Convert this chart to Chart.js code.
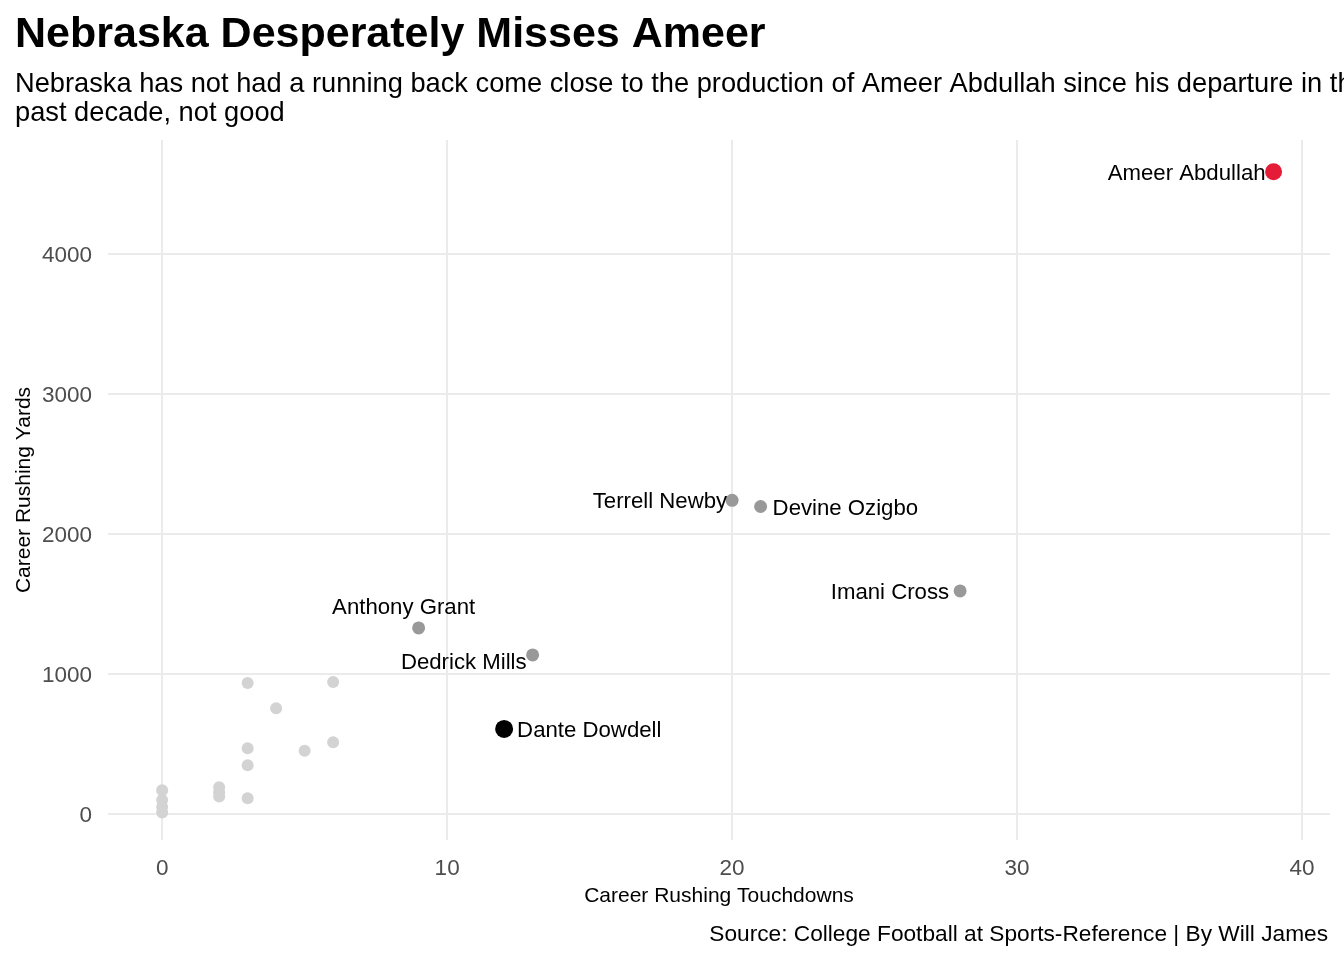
<!DOCTYPE html>
<html>
<head>
<meta charset="utf-8">
<script src="https://cdn.jsdelivr.net/npm/chart.js@4"></script>
<style>
  html, body { margin: 0; padding: 0; background: #ffffff; }
  #wrap { width: 1344px; height: 960px; }
</style>
</head>
<body>
<div id="wrap"><canvas id="chart" width="1344" height="960"></canvas></div>
<script>
// named running backs
const backs = ['Ameer Abdullah', 'Terrell Newby', 'Devine Ozigbo', 'Imani Cross', 'Anthony Grant', 'Dedrick Mills', 'Dante Dowdell'];
const backTouchdowns = [39, 20, 21, 28, 9, 13, 12];
const backYards = [4588, 2240, 2196, 1593, 1329, 1136, 607];

// everyone else (unlabelled)
const otherTouchdowns = [0, 0, 0, 0, 2, 2, 2, 3, 3, 3, 3, 4, 5, 6, 6];
const otherYards = [170, 100, 50, 10, 190, 155, 125, 936, 469, 348, 112, 755, 452, 943, 512];

const xTicks = [0, 10, 20, 30, 40];
const yTicks = [0, 1000, 2000, 3000, 4000];

// look of the named points and where their labels sit
const backColors = ['#e41c38', '#999999', '#999999', '#999999', '#999999', '#999999', '#000000'];
const backRadius = [8.5, 6.5, 6.5, 6.5, 6.5, 6.5, 9];
const labelSpots = [
    { align: 'right', dx: -8, dy: 2 },
    { align: 'right', dx: -5, dy: 2 },
    { align: 'left', dx: 12, dy: 2 },
    { align: 'right', dx: -11, dy: 2 },
    { align: 'center', dx: -15, dy: -20 },
    { align: 'right', dx: -6, dy: 8 },
    { align: 'left', dx: 13, dy: 2 }
];

const FONT = '"Liberation Sans", Arial, sans-serif';

const textPlugin = {
    id: 'textPlugin',
    afterDatasetsDraw(chart) {
        const ctx = chart.ctx;
        const meta = chart.getDatasetMeta(1);
        ctx.save();
        ctx.font = '22.2px ' + FONT;
        ctx.fillStyle = '#000000';
        ctx.textBaseline = 'middle';
        meta.data.forEach((pt, i) => {
            const s = labelSpots[i];
            ctx.textAlign = s.align;
            ctx.fillText(backs[i], pt.x + s.dx, pt.y + s.dy);
        });
        ctx.restore();
    },
    afterDraw(chart) {
        const ctx = chart.ctx;
        ctx.save();
        ctx.fillStyle = '#000000';
        ctx.textBaseline = 'alphabetic';
        ctx.textAlign = 'left';
        ctx.font = 'bold 43px ' + FONT;
        ctx.fillText('Nebraska Desperately Misses Ameer', 15, 47);
        ctx.font = '27.25px ' + FONT;
        ctx.fillText('Nebraska has not had a running back come close to the production of Ameer Abdullah since his departure in the', 15, 92);
        ctx.fillText('past decade, not good', 15, 121);
        ctx.textAlign = 'right';
        ctx.font = '22.7px ' + FONT;
        ctx.fillText('Source: College Football at Sports-Reference | By Will James', 1328, 941);
        ctx.restore();
    }
};

new Chart(document.getElementById('chart'), {
    type: 'scatter',
    data: {
        datasets: [
            {
                data: otherTouchdowns.map((t, i) => ({ x: t, y: otherYards[i] })),
                backgroundColor: '#d3d3d3',
                borderWidth: 0,
                pointRadius: 6,
                pointHoverRadius: 6
            },
            {
                data: backTouchdowns.map((t, i) => ({ x: t, y: backYards[i] })),
                backgroundColor: backColors,
                borderWidth: 0,
                pointRadius: backRadius,
                pointHoverRadius: backRadius
            }
        ]
    },
    options: {
        responsive: false,
        animation: false,
        devicePixelRatio: 1,
        layout: { padding: { top: 140, right: 14, left: 0, bottom: 0 } },
        plugins: {
            legend: { display: false },
            tooltip: { enabled: false }
        },
        scales: {
            x: {
                type: 'linear',
                min: -1.9,
                max: 40.98,
                afterBuildTicks: s => { s.ticks = xTicks.map(v => ({ value: v })); },
                afterFit: s => { s.height = 120; },
                grid: { color: '#ebebeb', lineWidth: 2, drawTicks: false },
                border: { display: false },
                ticks: { color: '#4d4d4d', font: { family: FONT, size: 22.5 }, padding: 15, maxRotation: 0, callback: v => String(v) },
                title: {
                    display: true,
                    text: 'Career Rushing Touchdowns',
                    color: '#000000',
                    font: { family: FONT, size: 21 },
                    padding: { top: 0, bottom: 51 }
                }
            },
            y: {
                type: 'linear',
                min: -186,
                max: 4814,
                afterBuildTicks: s => { s.ticks = yTicks.map(v => ({ value: v })); },
                afterFit: s => { s.width = 108; },
                grid: { color: '#ebebeb', lineWidth: 2, drawTicks: false },
                border: { display: false },
                ticks: { color: '#4d4d4d', font: { family: FONT, size: 22.5 }, padding: 16, labelOffset: 2, callback: v => String(v) },
                title: {
                    display: true,
                    text: 'Career Rushing Yards',
                    color: '#000000',
                    font: { family: FONT, size: 21 },
                    padding: { top: 12, bottom: 0 }
                }
            }
        }
    },
    plugins: [textPlugin]
});
</script>
</body>
</html>
